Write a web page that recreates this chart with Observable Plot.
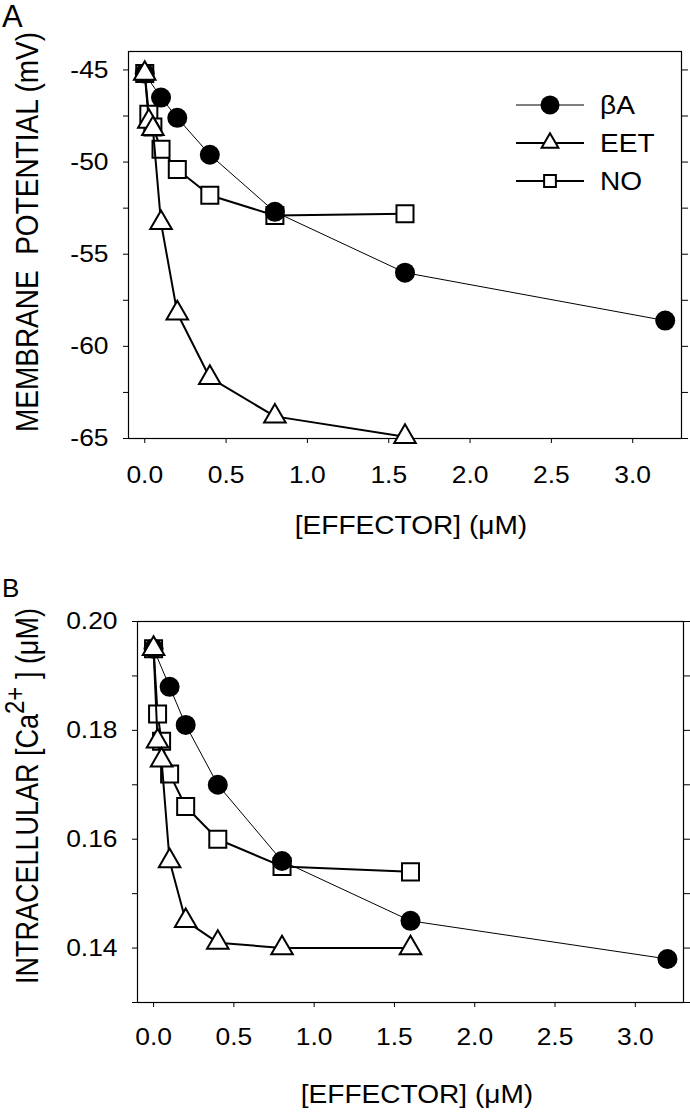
<!DOCTYPE html>
<html><head><meta charset="utf-8">
<script src="https://cdn.jsdelivr.net/npm/d3@7"></script>
<script src="https://cdn.jsdelivr.net/npm/@observablehq/plot@0.6"></script>
<style>
body{margin:0;background:#fff;}
#fig{position:relative;width:690px;height:1115px;background:#fff;}
.panel{position:absolute;left:0;}
</style></head><body><div id="fig"></div>
<script>
// ---------- data ----------
const seriesNames = ["βA", "EET", "NO"];
const concBA  = [0, 0.1, 0.2, 0.4, 0.8, 1.6, 3.2];
const concEET = [0, 0.025, 0.05, 0.1, 0.2, 0.4, 0.8, 1.6];
const concNO  = [0, 0.025, 0.05, 0.1, 0.2, 0.4, 0.8, 1.6];
// Panel A: membrane potential (mV)
const vmBA  = [-45.2, -46.5, -47.6, -49.6, -52.7, -56.0, -58.6];
const vmEET = [-45.2, -47.8, -48.2, -53.3, -58.2, -61.7, -63.8, -64.9];
const vmNO  = [-45.2, -47.4, -48.1, -49.3, -50.4, -51.8, -52.9, -52.8];
// Panel B: intracellular Ca2+ (uM)
const caBA  = [0.195, 0.188, 0.181, 0.170, 0.156, 0.145, 0.138];
const caEET = [0.195, 0.178, 0.1745, 0.156, 0.145, 0.141, 0.140, 0.140];
const caNO  = [0.195, 0.183, 0.178, 0.172, 0.166, 0.160, 0.155, 0.154];
// ticks
const xTicks  = [0, 0.5, 1, 1.5, 2, 2.5, 3];
const vmTicks = [-45, -50, -55, -60, -65];
const vmMinor = [-47.5, -52.5, -57.5, -62.5];
const caTicks = [0.20, 0.18, 0.16, 0.14];
const caMinor = [0.19, 0.17, 0.15, 0.13];
const xDomain = [-0.1, 3.3];
const vmDomain = [-65, -44];
const caDomain = [0.13, 0.20];

// ---------- helpers ----------
const FONT = '"Liberation Sans", Arial, Helvetica, sans-serif';
const SX = 1.1; // horizontal stretch of the original typography
const pts = (xs, ys) => xs.map((x, i) => ({x, y: ys[i]}));
const R = {ba: 10, eet: 8, no: 9.6};

function stretchTickLabels(svg, sx) {
  d3.select(svg).selectAll('g[aria-label$="tick label"] text').each(function () {
    const t = this.getAttribute("transform");
    if (t) this.setAttribute("transform", t + ` scale(${sx},1)`);
    else {
      const x = +this.getAttribute("x") || 0, y = +this.getAttribute("y") || 0;
      this.removeAttribute("x"); this.removeAttribute("y");
      this.setAttribute("transform", `translate(${x},${y}) scale(${sx},1)`);
    }
  });
}

function makePanel(o) {
  const ba = pts(concBA, o.ba), eet = pts(concEET, o.eet), no = pts(concNO, o.no);
  const svg = Plot.plot({
    width: 690, height: o.height,
    marginTop: o.mt, marginRight: o.mr, marginBottom: o.mb, marginLeft: o.ml,
    style: {fontFamily: FONT, fontSize: "24px", color: "#000", background: "transparent", overflow: "visible"},
    x: {domain: xDomain},
    y: {domain: o.yDomain},
    marks: [
      Plot.frame({stroke: "#000", strokeWidth: 1.2}),
      Plot.axisX({ticks: xTicks, tickSize: 5, tickPadding: o.xPad, tickFormat: d3.format(".1f"), label: null, fontSize: 24}),
      Plot.axisY({ticks: o.yTicks, tickSize: 5, tickPadding: 15, tickFormat: o.yFmt, label: null, fontSize: 24}),
      Plot.axisY({ticks: o.yMinor, tickSize: 5, tickFormat: () => "", label: null}),
      Plot.axisY({anchor: "right", ticks: [...o.yTicks, ...o.yMinor], tickSize: 6, tickFormat: () => "", label: null}),
      Plot.line(no, {x: "x", y: "y", stroke: "#000", strokeWidth: 2}),
      Plot.dot(no, {x: "x", y: "y", r: R.no, symbol: "square", fill: "#fff", stroke: "#000", strokeWidth: 2}),
      Plot.line(ba, {x: "x", y: "y", stroke: "#000", strokeWidth: 1}),
      Plot.dot(ba, {x: "x", y: "y", r: R.ba, fill: "#000", stroke: "none"}),
      Plot.line(eet, {x: "x", y: "y", stroke: "#000", strokeWidth: 2}),
      Plot.dot(eet, {x: "x", y: "y", r: R.eet, symbol: "triangle", fill: "#fff", stroke: "#000", strokeWidth: 2})
    ]
  });
  stretchTickLabels(svg, SX);
  svg.classList.add("panel");
  svg.style.top = o.top + "px";
  return svg;
}

const fig = document.getElementById("fig");

// Panel A
const svgA = makePanel({
  top: 0, height: 560, mt: 51, mb: 122, ml: 128, mr: 9,
  yDomain: vmDomain, yTicks: vmTicks, yMinor: vmMinor, yFmt: d => String(d), xPad: 22,
  ba: vmBA, eet: vmEET, no: vmNO
});
fig.appendChild(svgA);

// Panel B
const svgB = makePanel({
  top: 560, height: 555, mt: 61, mb: 113, ml: 137, mr: 7,
  yDomain: caDomain, yTicks: caTicks, yMinor: caMinor, yFmt: d3.format(".2f"), xPad: 20,
  ba: caBA, eet: caEET, no: caNO
});
fig.appendChild(svgB);

// ---------- titles / labels ----------
function addText(svg, x, y, size, str, anchor = "middle", rotate = 0, sx = 1) {
  const t = d3.select(svg).append("text")
    .attr("transform", `translate(${x},${y})` + (sx !== 1 ? ` scale(${sx},1)` : "") + (rotate ? ` rotate(${rotate})` : ""))
    .attr("text-anchor", anchor)
    .attr("font-family", FONT)
    .attr("font-size", size)
    .attr("fill", "#000")
    .style("white-space", "pre");
  if (str != null) t.text(str);
  return t;
}
// Panel A
addText(svgA, 2, 27, 31, "A", "start");
addText(svgA, 411, 534, 26, "[EFFECTOR] (\u03bcM)", "middle", 0, 1.08);
addText(svgA, 38, 232, 28, "MEMBRANE\u00a0 POTENTIAL (mV)", "middle", -90, 1.15);
// Panel B (svg offset 560)
addText(svgB, 2, 37, 26, "B", "start");
addText(svgB, 417, 543, 26, "[EFFECTOR] (\u03bcM)", "middle", 0, 1.08);
const yb = addText(svgB, 38, 236, 27, null, "middle", -90, 1.15);
yb.append("tspan").text("INTRACELLULAR [Ca");
yb.append("tspan").attr("font-size", 24).attr("dy", -12).text("2+");
yb.append("tspan").attr("dy", 12).text(" ] (\u03bcM)");

// ---------- legend (panel A) ----------
const legend = d3.select(svgA).append("g").attr("font-family", FONT).attr("font-size", 26).attr("text-anchor", "start");
const legendRows = [
  {name: seriesNames[0], y: 105, sym: d3.symbolCircle, r: 9.5, fill: "#000", stroke: "none", lw: 1.2},
  {name: seriesNames[1], y: 143, sym: d3.symbolTriangle2, r: R.eet, fill: "#fff", stroke: "#000", lw: 2},
  {name: seriesNames[2], y: 181, sym: d3.symbolSquare2, r: 7.5, fill: "#fff", stroke: "#000", lw: 2}
];
for (const row of legendRows) {
  const g = legend.append("g").attr("transform", `translate(0,${row.y})`);
  g.append("line").attr("x1", 516).attr("x2", 584).attr("stroke", "#000").attr("stroke-width", row.lw);
  g.append("path").attr("transform", "translate(550,0)")
    .attr("d", d3.symbol(row.sym, Math.PI * row.r * row.r)())
    .attr("fill", row.fill).attr("stroke", row.stroke).attr("stroke-width", 2);
  g.append("text").attr("transform", "translate(600,0) scale(1.08,1)").attr("dy", "0.35em").attr("text-anchor", "start").text(row.name);
}
</script></body></html>
